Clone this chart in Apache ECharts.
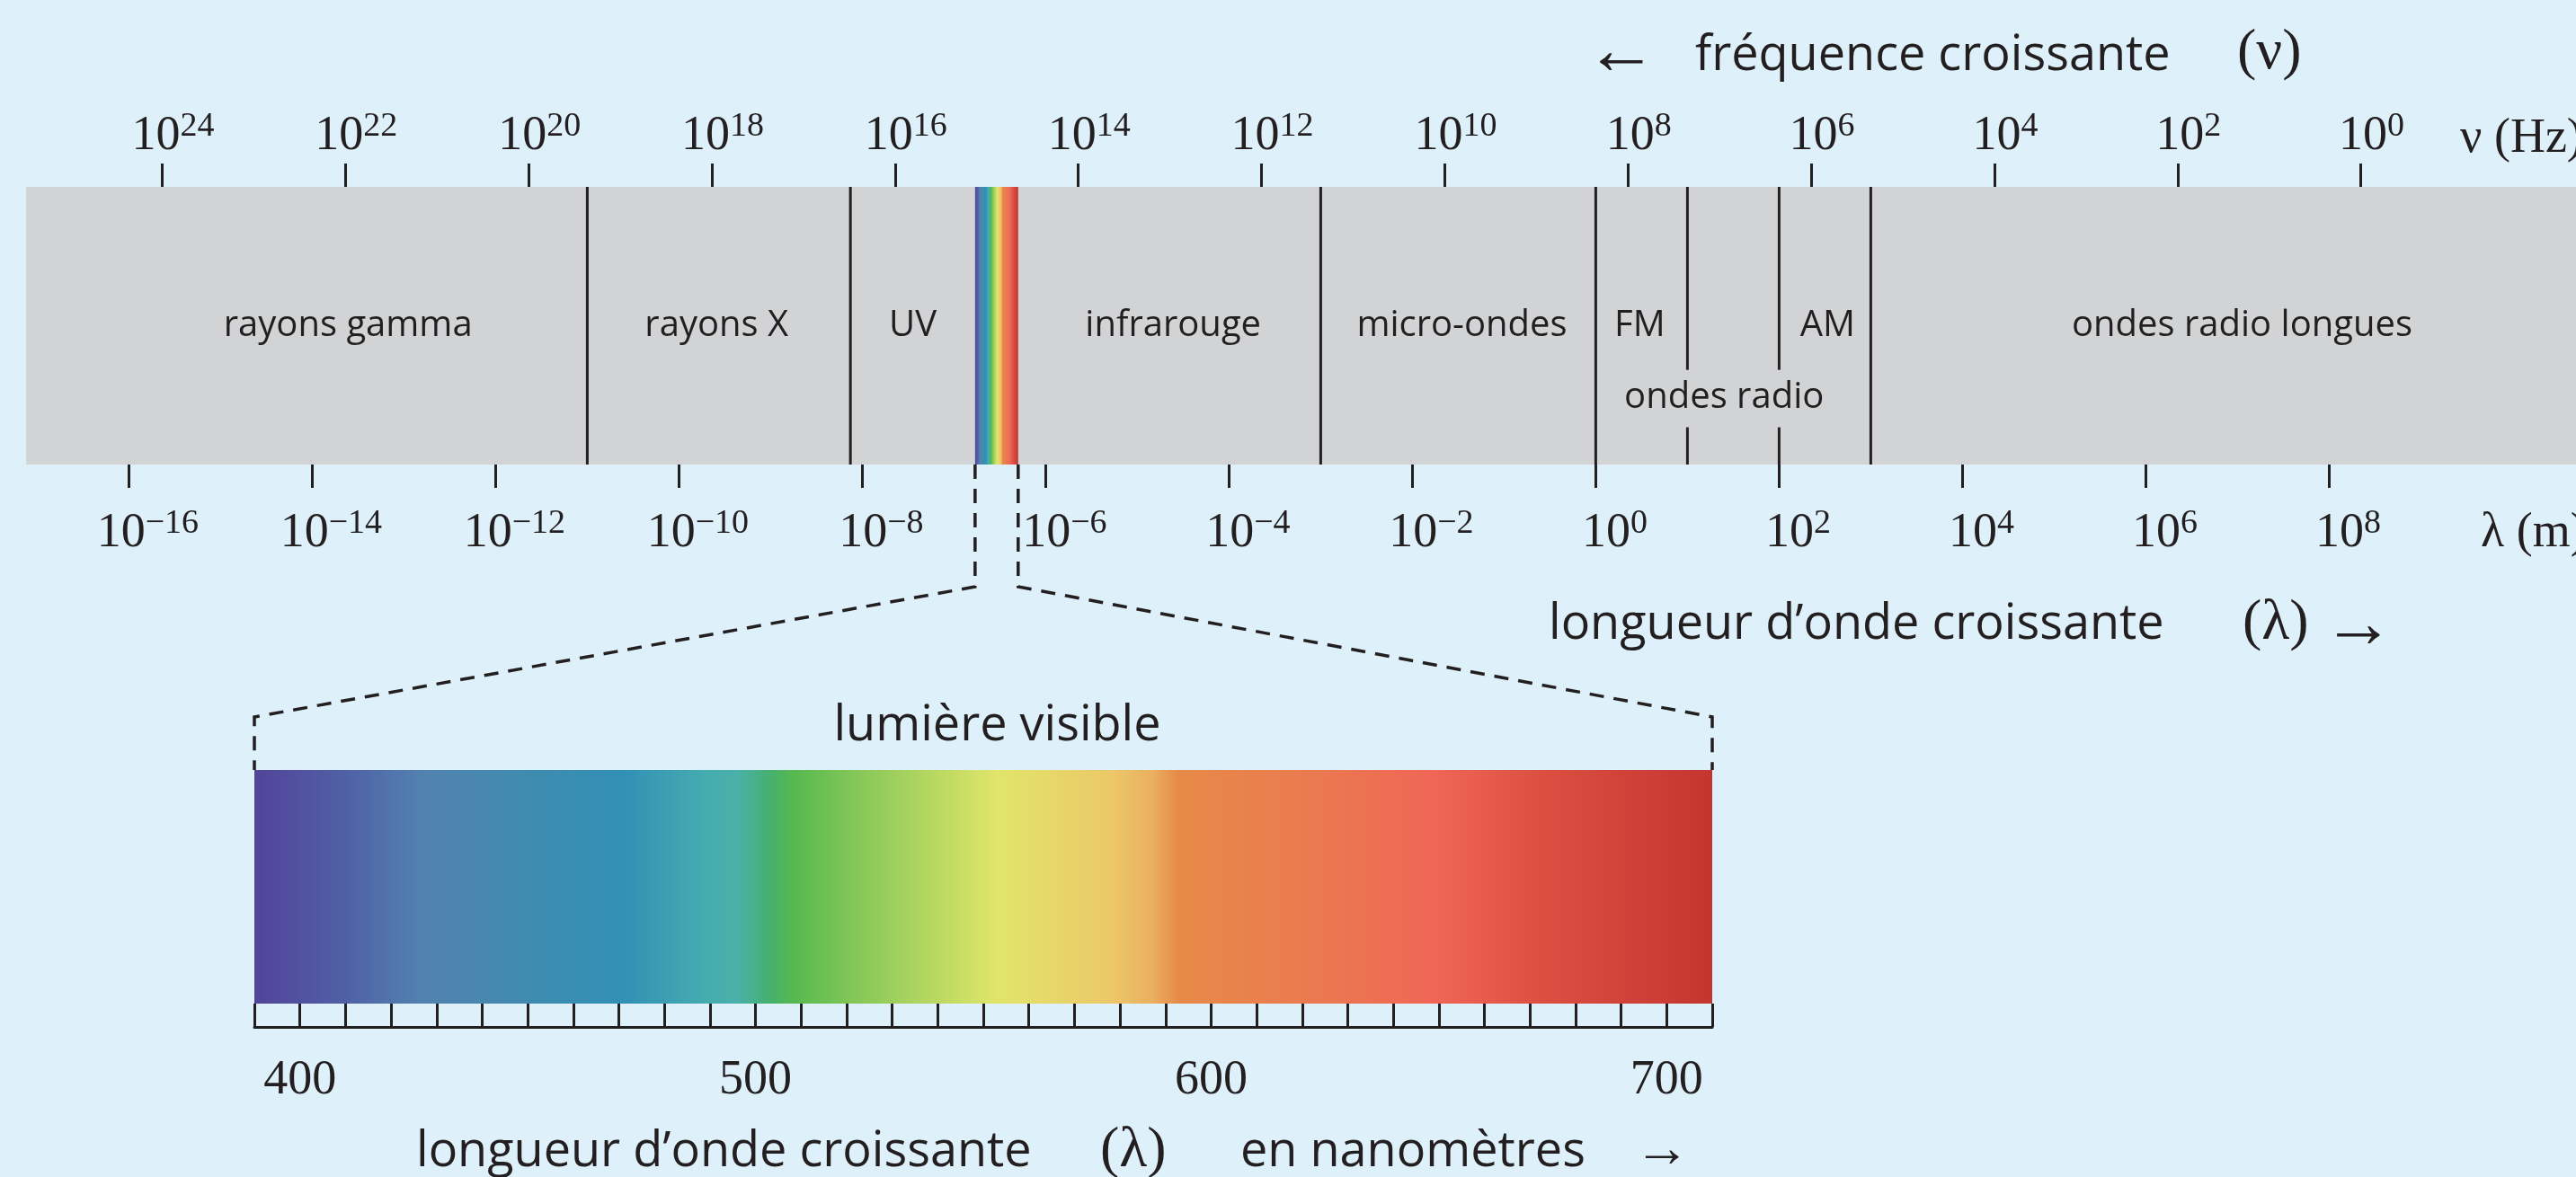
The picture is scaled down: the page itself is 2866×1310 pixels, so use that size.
<!DOCTYPE html>
<html>
<head>
<meta charset="utf-8">
<script src="https://cdn.jsdelivr.net/npm/echarts@6/dist/echarts.min.js"></script>
<style>
  html, body { margin: 0; padding: 0; background: #def1fa; }
  #spectre { width: 2866px; height: 1310px; }
</style>
</head>
<body>
<div id="spectre"></div>
<script>
// --- données -------------------------------------------------------------
// exposants de 10 des graduations
const nuExposants = [24, 22, 20, 18, 16, 14, 12, 10, 8, 6, 4, 2, 0];          // ν (Hz)
const lambdaExposants = [-16, -14, -12, -10, -8, -6, -4, -2, 0, 2, 4, 6, 8];   // λ (m)
const nmGraduations = [400, 500, 600, 700];                                    // λ (nm)
const nmDomaine = [390, 710];

// domaines, centre en log10 λ
const domaines = ['rayons gamma', 'rayons X', 'UV', 'infrarouge', 'micro-ondes', 'FM', 'AM', 'ondes radio longues'];
const domainesCentre = [-13.61, -9.59, -7.45, -4.61, -1.46, 0.48, 2.53, 7.05];
const ondesRadioCentre = 1.40;

// limites entre domaines (log10 λ), celles coupées par « ondes radio »
const limites = [-11, -8.13, -3, 0, 1, 2, 3];
const limitesCoupees = [1, 2];

const bande = [-17.12, 11];           // étendue de la bande grise (log10 λ)
const visibleLog = [-6.77, -6.30];    // bande visible (log10 λ)

// --- styles --------------------------------------------------------------
const NOIR = '#231f20';
const GRIS = '#d1d3d4';
const SANS = '"Open Sans", "Noto Sans", sans-serif';
const SERIF = '"Liberation Serif", "DejaVu Serif", serif';
const FLECHE = '"Liberation Sans", "DejaVu Sans", sans-serif';

const couleursSpectre = [
  [390, '#52449a'], [410, '#5060a6'], [427, '#5282b0'], [454, '#3c8cb0'],
  [471, '#3290b5'], [489, '#45acb0'], [496, '#4ab0a8'], [503, '#45b070'],
  [508, '#55b850'], [521, '#82c657'], [553, '#e1e56a'], [578, '#ecc868'],
  [587, '#eab060'], [593, '#e68a48'], [622, '#ea7a50'], [649, '#f06656'],
  [672, '#dc5042'], [710, '#c43530']
];
const stops = couleursSpectre.map(([nm, c]) => ({
  offset: (nm - nmDomaine[0]) / (nmDomaine[1] - nmDomaine[0]),
  color: c
}));
const degrade = () => new echarts.graphic.LinearGradient(0, 0, 1, 0, stops);

const RANG_DOMAINES = 0.50;
const RANG_RADIO = 0.24;
const TROU = [0.134, 0.341];

const puissance = v => '{b|10}{s|' + String(v).replace('-', '\u2212') + '}';
const richPuissance = {
  b: { fontFamily: SERIF, fontSize: 54, lineHeight: 60, color: NOIR },
  s: { fontFamily: SERIF, fontSize: 38, lineHeight: 26, verticalAlign: 'top', color: NOIR }
};
const tick = { show: true, inside: false, length: 26, lineStyle: { color: NOIR, width: 3 } };

const chart = echarts.init(document.getElementById('spectre'));

const option = {
  animation: false,
  backgroundColor: '#def1fa',
  grid: [
    { left: 143.4, right: 274.6, top: 208, bottom: 793, containLabel: false, outerBoundsMode: 'none' },
    { left: 180.5, right: 239.4, top: 208, bottom: 793, containLabel: false, outerBoundsMode: 'none' },
    { left: 283, right: 961, top: 857, bottom: 193, containLabel: false, outerBoundsMode: 'none' }
  ],
  xAxis: [
    {
      gridIndex: 0, type: 'value', position: 'bottom', z: 10,
      min: Math.min(...lambdaExposants), max: Math.max(...lambdaExposants), interval: 2,
      axisLine: { show: false, onZero: false }, splitLine: { show: false },
      axisTick: tick,
      axisLabel: {
        interval: 0, margin: 47, padding: [0, 0, 0, 42],
        formatter: puissance, rich: richPuissance
      }
    },
    {
      gridIndex: 1, type: 'value', position: 'top', inverse: true, z: 10,
      min: Math.min(...nuExposants), max: Math.max(...nuExposants), interval: 2,
      axisLine: { show: false, onZero: false }, splitLine: { show: false },
      axisTick: tick,
      axisLabel: {
        interval: 0, margin: 26, padding: [0, 0, 0, 24],
        formatter: puissance, rich: richPuissance
      }
    },
    {
      gridIndex: 2, type: 'value', position: 'bottom', offset: 26, z: 10,
      min: nmDomaine[0], max: nmDomaine[1], interval: 10,
      axisLine: { show: true, onZero: false, lineStyle: { color: NOIR, width: 3 } },
      splitLine: { show: false },
      axisTick: { show: true, inside: true, length: 26, lineStyle: { color: NOIR, width: 3 } },
      axisLabel: {
        interval: 0, margin: 30,
        formatter: v => (nmGraduations.includes(v) ? String(v) : ''),
        fontFamily: SERIF, fontSize: 54, lineHeight: 60, color: NOIR
      }
    }
  ],
  yAxis: [0, 1, 2].map(i => ({ gridIndex: i, type: 'value', min: 0, max: 1, show: false })),
  series: [
    {
      // bande grise
      type: 'custom', xAxisIndex: 0, yAxisIndex: 0, silent: true, z: 1,
      data: [bande],
      renderItem(params, api) {
        const a = api.coord([api.value(0), 1]);
        const b = api.coord([api.value(1), 0]);
        return { type: 'rect', shape: { x: a[0], y: a[1], width: b[0] - a[0], height: b[1] - a[1] }, style: { fill: GRIS } };
      }
    },
    {
      // bande visible dans le spectre
      type: 'custom', xAxisIndex: 0, yAxisIndex: 0, silent: true, z: 2,
      data: [visibleLog],
      renderItem(params, api) {
        const a = api.coord([api.value(0), 1]);
        const b = api.coord([api.value(1), 0]);
        return { type: 'rect', shape: { x: a[0], y: a[1], width: b[0] - a[0], height: b[1] - a[1] }, style: { fill: degrade() } };
      }
    },
    {
      // limites entre domaines
      type: 'custom', xAxisIndex: 0, yAxisIndex: 0, silent: true, z: 3,
      data: limites.map(v => [v, limitesCoupees.includes(v) ? 1 : 0]),
      renderItem(params, api) {
        const v = api.value(0);
        const seg = (y0, y1) => {
          const p0 = api.coord([v, y0]), p1 = api.coord([v, y1]);
          return { type: 'line', shape: { x1: p0[0], y1: p0[1], x2: p1[0], y2: p1[1] }, style: { stroke: NOIR, lineWidth: 3 } };
        };
        const children = api.value(1) ? [seg(1, TROU[1]), seg(TROU[0], 0)] : [seg(1, 0)];
        return { type: 'group', children };
      }
    },
    {
      // noms des domaines
      type: 'custom', xAxisIndex: 0, yAxisIndex: 0, silent: true, z: 4,
      data: domainesCentre.map(c => [c, RANG_DOMAINES]).concat([[ondesRadioCentre, RANG_RADIO]]),
      renderItem(params, api) {
        const p = api.coord([api.value(0), api.value(1)]);
        const nom = params.dataIndex < domaines.length ? domaines[params.dataIndex] : 'ondes radio';
        return {
          type: 'text', x: p[0], y: p[1],
          style: { text: nom, fill: NOIR, font: '40px ' + SANS, align: 'center', verticalAlign: 'middle' }
        };
      }
    },
    {
      // lumière visible agrandie
      type: 'custom', xAxisIndex: 2, yAxisIndex: 2, silent: true, z: 2,
      data: [nmDomaine],
      renderItem(params, api) {
        const a = api.coord([api.value(0), 1]);
        const b = api.coord([api.value(1), 0]);
        return { type: 'rect', shape: { x: a[0], y: a[1], width: b[0] - a[0], height: b[1] - a[1] }, style: { fill: degrade() } };
      }
    }
  ]
};

chart.setOption(option);

// --- pointillés et textes -------------------------------------------------
const texte = (x, y, text, font, align) => ({
  type: 'text', x, y, silent: true,
  style: { text, font, fill: NOIR, align: align || 'left', verticalAlign: 'middle' }
});

const pointilles = [0, 1].map(i => {
  const haut = chart.convertToPixel({ gridIndex: 0 }, [visibleLog[i], 0]);
  const bas = chart.convertToPixel({ gridIndex: 2 }, [nmDomaine[i], 1]);
  return {
    type: 'polyline', silent: true,
    shape: { points: [haut, [haut[0], haut[1] + 136], [bas[0], bas[1] - 59], bas] },
    style: { stroke: NOIR, lineWidth: 3.5, lineDash: [16, 11], fill: null }
  };
});

chart.setOption({
  graphic: pointilles.concat([
    texte(1764, 60, '\u2190', '80px ' + FLECHE),
    texte(1886, 63, 'fréquence croissante', '54px ' + SANS),
    texte(2489, 59, '(ν)', '64px ' + SERIF),
    texte(2737, 155, 'ν (Hz)', '54px ' + SERIF),
    texte(2760, 594, 'λ (m)', '54px ' + SERIF),
    texte(1723, 696, 'longueur d\u2019onde croissante', '54px ' + SANS),
    texte(2495, 694, '(λ)', '64px ' + SERIF),
    texte(2584, 698, '\u2192', '80px ' + FLECHE),
    texte(1109.5, 809, 'lumière visible', '54px ' + SANS, 'center'),
    texte(463, 1283, 'longueur d\u2019onde croissante', '54px ' + SANS),
    texte(1224, 1281, '(λ)', '64px ' + SERIF),
    texte(1380, 1283, 'en nanomètres', '54px ' + SANS),
    texte(1818, 1281, '\u2192', '62px ' + FLECHE)
  ])
});
</script>
</body>
</html>
